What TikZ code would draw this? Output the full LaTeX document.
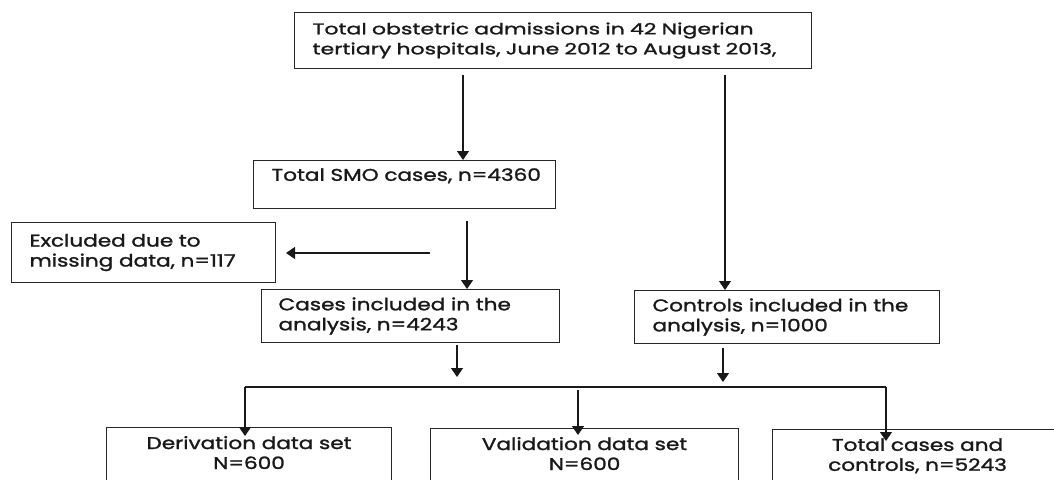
\documentclass[tikz,border=0pt]{standalone}
\usepackage{fontspec}
\newfontfamily\boxfont{Poppins}[FakeStretch=1.27,FakeBold=1.5]
\newfontfamily\topfont{Poppins}[FakeStretch=1.42,FakeBold=1.5]
\usetikzlibrary{arrows.meta}
\tikzset{
  box/.style={draw=black!85, line width=1.1pt, rectangle, anchor=north west, inner ysep=0pt,
    font=\boxfont\fontsize{17}{20}\selectfont, text=black!90},
  lbox/.style={box, align=left},
  cbox/.style={box, align=center},
  arr/.style={line width=1.3pt, draw=black!90, -{Triangle[width=12pt,length=9pt]}},
  ln/.style={line width=1.3pt, draw=black!90}
}
\begin{document}
\begin{tikzpicture}[x=1pt,y=-1pt]
\useasboundingbox (0,0) rectangle (1054,479);
\clip (0,0) rectangle (1054,479);
% boxes
\node[lbox, inner xsep=18pt, text width=481pt, minimum height=56pt,
  font=\topfont\fontsize{15.5}{20}\selectfont] (top) at (294,12)
  {\mbox{Total obstetric admissions in 42 Nigerian}\\\mbox{tertiary hospitals, June 2012 to August 2013,}};
\node[lbox, inner xsep=18pt, text width=266pt, minimum height=48pt] (smo) at (253,160)
  {\mbox{Total SMO cases, n=4360}\\\mbox{}};
\node[lbox, inner xsep=18pt, text width=228pt, minimum height=60pt] (excl) at (11,222)
  {\mbox{Excluded due to}\\\mbox{missing data, n=117}};
\node[lbox, inner xsep=17pt, text width=264pt, minimum height=53pt] (cases) at (261,289)
  {\mbox{Cases included in the}\\\mbox{analysis, n=4243}};
\node[lbox, inner xsep=18pt, text width=269pt, minimum height=53pt] (ctrl) at (634,290)
  {\mbox{Controls included in the}\\\mbox{analysis, n=1000}};
\node[cbox, inner xsep=4pt, text width=277pt, minimum height=70pt] (deriv) at (106,427)
  {Derivation data set\\N=600\\\mbox{}};
\node[cbox, inner xsep=4pt, text width=300pt, minimum height=70pt] (valid) at (430,428)
  {Validation data set\\N=600\\\mbox{}};
\node[cbox, inner xsep=4pt, text width=282pt, minimum height=70pt] (total) at (772,429)
  {Total cases and\\controls, n=5243\\\mbox{}};
% connector coordinates
\coordinate (a1s) at (463,75);
\coordinate (a2s) at (725,75);
\coordinate (a3s) at (467,221);
\coordinate (exs) at (430,253);
\coordinate (exe) at (286,253);
\coordinate (c1s) at (457,345);
\coordinate (c1e) at (457,377);
\coordinate (c2s) at (723,348);
\coordinate (c2e) at (723,382);
\coordinate (hl) at (245,387);
\coordinate (hr) at (886,387);
\coordinate (vs) at (578,390);
% connectors
\draw[arr] (a1s) -- (a1s |- smo.north);
\draw[arr] (a2s) -- (a2s |- ctrl.north);
\draw[arr] (a3s) -- (a3s |- cases.north);
\draw[arr] (exs) -- (exe);
\draw[arr] (c1s) -- (c1e);
\draw[arr] (c2s) -- (c2e);
\draw[ln] (hl) -- (hr);
\draw[arr] (hl) -- ([yshift=-9pt]hl |- deriv.north);
\draw[arr] (vs) -- ([yshift=-7pt]vs |- valid.north);
\draw[arr] (hr) -- ([yshift=-12pt]hr |- total.north);
\end{tikzpicture}
\end{document}
